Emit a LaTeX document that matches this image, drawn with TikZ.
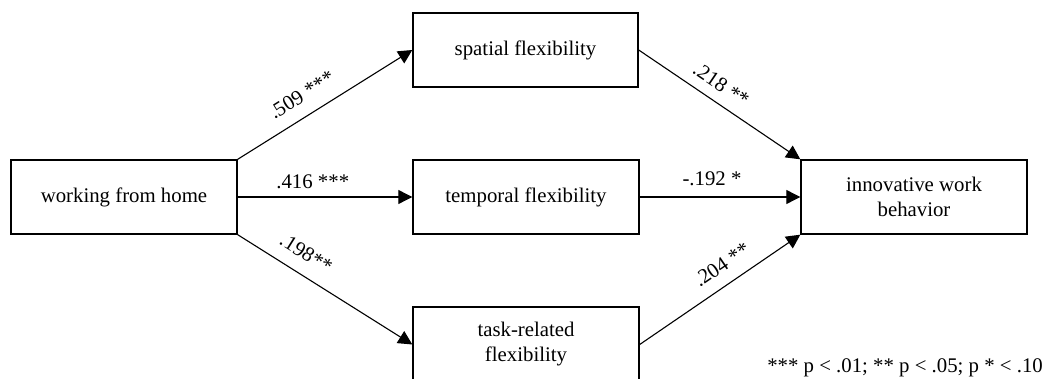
\documentclass[tikz,border=0pt]{standalone}
\usepackage{fontspec}
\setmainfont{Liberation Serif}
\usetikzlibrary{arrows.meta}
\begin{document}
\begin{tikzpicture}[x=1pt,y=-1pt,
  box/.style={draw,line width=1.4pt,rectangle,minimum width=226pt,minimum height=74pt,inner sep=0pt,align=center,font=\fontsize{20.8}{25}\selectfont},
  conn/.style={line width=1.1pt,-{Triangle[length=14pt,width=14pt]}},
  lab/.style={inner sep=0pt,font=\fontsize{20.8}{25}\selectfont}]
\useasboundingbox (0,0) rectangle (1046,379);
\begin{scope}
\clip (0,0) rectangle (1046,379);
\node[box] (wfh) at (124,197) {working from home};
\node[box,minimum width=225pt] (sp) at (525.5,50) {spatial flexibility};
\node[box] (tp) at (526,197) {temporal flexibility};
\node[box,minimum height=75pt] (tk) at (526,344.5) {task-related\\flexibility};
\node[box] (iwb) at (914,197) {innovative work\\behavior};
\draw[conn] (wfh.north east) -- node[lab,sloped,above=13pt,pos=0.43] {.509 ***} (sp.west);
\draw[conn] (wfh.east) -- node[lab,above=8pt,pos=0.43] {.416 ***} (tp.west);
\draw[conn] (wfh.south east) -- node[lab,sloped,above=13pt,pos=0.33] {.198**} (tk.west);
\draw[conn] (sp.east) -- node[lab,sloped,above=10pt,pos=0.45] {.218 **} (iwb.north west);
\draw[conn] (tp.east) -- node[lab,above=11pt,pos=0.45] {-.192 *} (iwb.west);
\draw[conn] (tk.east) -- node[lab,sloped,above=12pt,pos=0.58] {.204 **} (iwb.south west);
\node[lab,anchor=east] (note) at (1043,368) {*** p < .01; ** p < .05; p * < .10};
\end{scope}
\end{tikzpicture}
\end{document}
